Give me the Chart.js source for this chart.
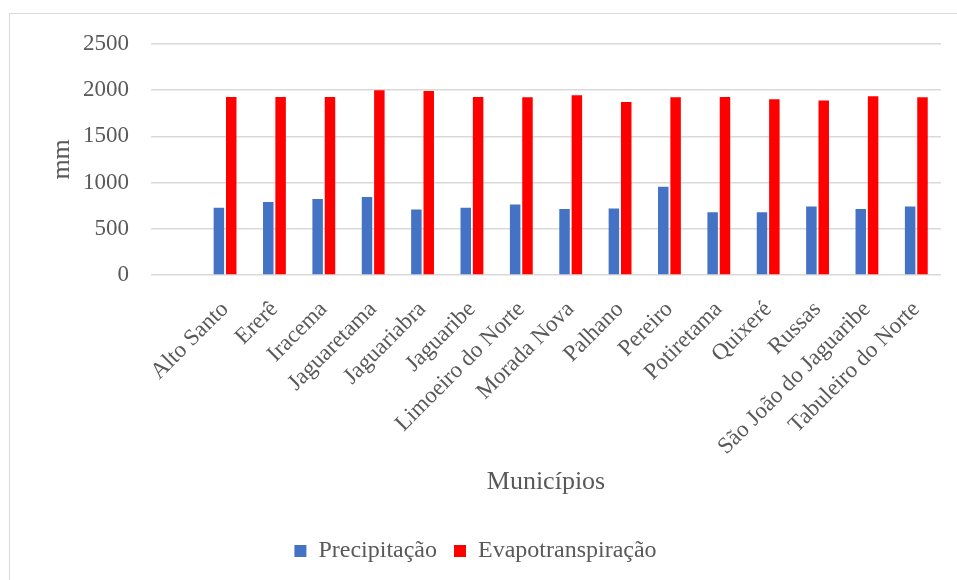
<!DOCTYPE html>
<html>
<head>
<meta charset="utf-8">
<script src="https://cdn.jsdelivr.net/npm/chart.js@4"></script>
<style>
  body { margin: 0; background: #fff; overflow: hidden; }
  #frame { position: absolute; left: 9px; top: 13px; width: 969px; height: 578px; border: 1px solid #d9d9d9; }
  #wrap { position: absolute; left: 10px; top: 8px; width: 969px; height: 578px; }
</style>
</head>
<body>
<div id="frame"></div>
<div id="wrap"><canvas id="chart"></canvas></div>
<script>
// municipalities (first slot is an empty category, as in the original sheet)
const municipios = [
  "", "Alto Santo", "Ererê", "Iracema", "Jaguaretama", "Jaguariabra", "Jaguaribe",
  "Limoeiro do Norte", "Morada Nova", "Palhano", "Pereiro", "Potiretama",
  "Quixeré", "Russas", "São João do Jaguaribe", "Tabuleiro do Norte",
];
const precipitacao = [null, 726, 790, 823, 844, 708, 726, 762, 715, 718, 955, 679, 679, 740, 715, 740];
const evapotranspiracao = [null, 1925, 1925, 1925, 1997, 1990, 1925, 1922, 1943, 1871, 1922, 1925, 1900, 1886, 1933, 1922];
const yTicks = [0, 500, 1000, 1500, 2000, 2500];

const FONT = "'Liberation Serif', 'Times New Roman', serif";
const TEXT = "#595959";
const GRID = "#d9d9d9";

new Chart(document.getElementById("chart"), {
  type: "bar",
  data: {
    labels: municipios,
    datasets: [
      {
        label: "Precipitação",
        data: precipitacao,
        backgroundColor: "#4472C4",
        categoryPercentage: 0.5,
        barPercentage: 0.85,
      },
      {
        label: "Evapotranspiração",
        data: evapotranspiracao,
        backgroundColor: "#FF0000",
        categoryPercentage: 0.5,
        barPercentage: 0.85,
      },
    ],
  },
  options: {
    responsive: true,
    maintainAspectRatio: false,
    animation: false,
    layout: { padding: { left: 0, right: 38, top: 23, bottom: 13 } },
    plugins: {
      tooltip: { enabled: false },
      legend: {
        position: "bottom",
        labels: {
          color: TEXT,
          font: { family: FONT, size: 24 },
          boxWidth: 12,
          boxHeight: 12,
          padding: 17,
        },
      },
    },
    scales: {
      x: {
        grid: { display: false },
        border: { display: false },
        ticks: {
          color: TEXT,
          font: { family: FONT, size: 23 },
          minRotation: 45,
          maxRotation: 45,
          autoSkip: false,
          padding: 13,
        },
        title: {
          display: true,
          text: "Municípios",
          color: TEXT,
          font: { family: FONT, size: 26 },
          padding: { top: 0, bottom: 24 },
        },
        afterFit: axis => { axis.height = 247; },
      },
      y: {
        min: 0,
        max: 2500,
        afterBuildTicks: axis => { axis.ticks = yTicks.map(v => ({ value: v })); },
        grid: { color: GRID, lineWidth: 1.5, drawTicks: false },
        border: { display: false },
        ticks: {
          color: TEXT,
          font: { family: FONT, size: 23 },
          padding: 22,
          callback: v => String(v),
        },
        title: {
          display: true,
          text: "mm",
          color: TEXT,
          font: { family: FONT, size: 26 },
          padding: { top: 37, bottom: 0 },
        },
        afterFit: axis => { axis.width = 141; },
      },
    },
  },
});
</script>
</body>
</html>
